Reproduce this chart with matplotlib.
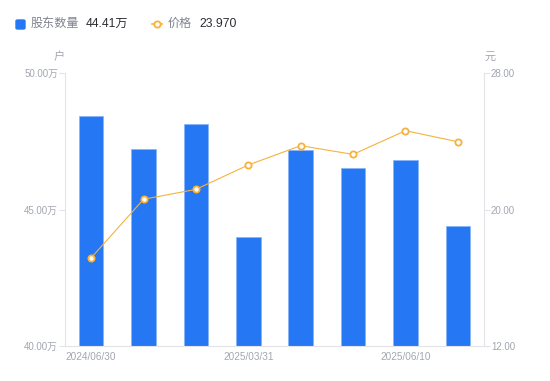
import numpy as np
import matplotlib.pyplot as plt
from matplotlib.patches import FancyBboxPatch
from matplotlib.lines import Line2D

plt.rcParams['font.family'] = ['Liberation Sans', 'Noto Sans CJK SC', 'DejaVu Sans']

# data
dates = ["2024/06/30", "", "", "2025/03/31", "", "", "2025/06/10", ""]
holders = [48.42, 47.22, 48.13, 43.99, 47.17, 46.52, 46.80, 44.41]  # 万户
price = [17.17, 20.60, 21.18, 22.61, 23.74, 23.23, 24.62, 23.97]

blue = "#2577f4"
orange = "#f6b23c"
label_col = "#a3a6b2"
axis_col = "#e3e4e8"

x = np.arange(len(dates))

fig = plt.figure(figsize=(5.5, 3.81), dpi=100)
ax = fig.add_axes([65 / 550, 1 - 346 / 381, 419 / 550, 273 / 381])
ax2 = ax.twinx()

ax.bar(x, holders, width=0.47, color=blue, edgecolor="#86b4fa", linewidth=0.5, zorder=2)
ax2.plot(x, price, color=orange, linewidth=0.8, marker="o", markersize=4.5,
         markerfacecolor="white", markeredgecolor=orange, markeredgewidth=1.3, zorder=3)

ax.set_xlim(-0.5, len(dates) - 0.5)
ax.set_ylim(40, 50)
ax2.set_ylim(12, 28)

ax.set_yticks([40, 45, 50])
ax.set_yticklabels([f"{v:.2f}万" for v in [40, 45, 50]])
ax2.set_yticks([12, 20, 28])
ax2.set_yticklabels([f"{v:.2f}" for v in [12, 20, 28]])

shown = [i for i, d in enumerate(dates) if d]
ax.set_xticks(shown)
ax.set_xticklabels([dates[i] for i in shown])

for a in (ax, ax2):
    for s in a.spines.values():
        s.set_visible(False)
ax.spines["left"].set_visible(True)
ax.spines["bottom"].set_visible(True)
ax2.spines["right"].set_visible(True)
for s in (ax.spines["left"], ax.spines["bottom"], ax2.spines["right"]):
    s.set_color(axis_col)
    s.set_linewidth(0.8)

ax.tick_params(axis="y", length=4, width=0.8, color=axis_col, labelcolor=label_col,
               labelsize=7, pad=1)
ax.tick_params(axis="x", length=0, labelcolor=label_col, labelsize=7.2, pad=4)
ax2.tick_params(axis="y", length=4, width=0.8, color=axis_col, labelcolor=label_col,
                labelsize=7, pad=1)

# axis units
fig.text(59 / 550, 1 - 57 / 381, "户", color=label_col, fontsize=8, ha="center", va="center")
fig.text(490 / 550, 1 - 57 / 381, "元", color=label_col, fontsize=8, ha="center", va="center")

# legend
ly = 1 - 24 / 381
fig.patches.append(FancyBboxPatch((16 / 550, 1 - 29 / 381), 9 / 550, 9 / 381,
                                  boxstyle="round,pad=0,rounding_size=0.003",
                                  transform=fig.transFigure, color=blue))
fig.text(31 / 550, ly, "股东数量", color="#80838f", fontsize=8.7, va="center")
fig.text(86 / 550, ly, f"{holders[-1]:.2f}万", color="#2b2d33", fontsize=8.7, va="center")
fig.lines.append(Line2D([152 / 550, 162 / 550], [ly, ly], transform=fig.transFigure,
                        color=orange, linewidth=1.2))
fig.lines.append(Line2D([157 / 550], [ly], transform=fig.transFigure, color=orange,
                        marker="o", markersize=4.5, markerfacecolor="white",
                        markeredgewidth=1.3))
fig.text(168 / 550, ly, "价格", color="#80838f", fontsize=8.7, va="center")
fig.text(199 / 550, ly, f"{price[-1]:.3f}", color="#2b2d33", fontsize=8.7, va="center")

fig.savefig("out.png", dpi=100)
